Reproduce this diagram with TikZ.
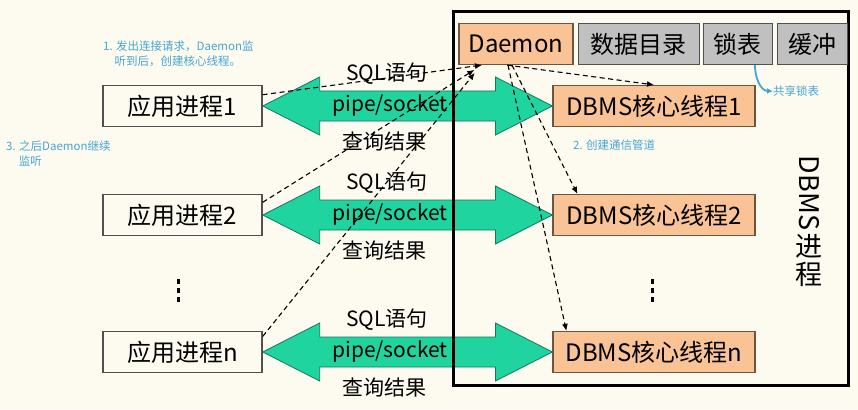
\documentclass[tikz,border=0pt]{standalone}
\usepackage{fontspec}
\usepackage{graphicx}
\setmainfont{Noto Sans CJK SC}
\usetikzlibrary{arrows.meta,positioning,calc}
\definecolor{bgCream}{RGB}{253,251,240}
\definecolor{dbmsOrange}{RGB}{250,195,150}
\definecolor{orangeLine}{RGB}{110,85,65}
\definecolor{resGray}{RGB}{192,192,192}
\definecolor{grayLine}{RGB}{80,80,80}
\definecolor{pipeGreen}{RGB}{32,212,160}
\definecolor{pipeLine}{RGB}{20,120,90}
\definecolor{noteBlue}{RGB}{70,165,210}
\newcommand{\lblfont}{\fontsize{24}{26}\selectfont}
\newcommand{\msgfont}{\fontsize{21}{24}\selectfont}
\newcommand{\notefont}{\fontsize{11.5}{15}\selectfont}
\newcommand{\vlblfont}{\fontsize{27}{29}\selectfont}
% green two-way channel between an app and its core thread
\newcommand{\pipelink}[2]{%
  \path[pipe] let \p1=(#1.east), \p2=(#2.west) in
    (\p1) -- (\x1+57pt,\y1+29pt) -- (\x1+57pt,\y1+15pt) -- (\x2-57pt,\y1+15pt)
    -- (\x2-57pt,\y1+29pt) -- (\x2,\y1) -- (\x2-57pt,\y1-29pt) -- (\x2-57pt,\y1-15pt)
    -- (\x1+57pt,\y1-15pt) -- (\x1+57pt,\y1-29pt) -- cycle;}

\begin{document}
\begin{tikzpicture}[x=1pt,y=-1pt,
  app/.style={draw=grayLine,line width=1.4pt,fill=bgCream,minimum width=159pt,minimum height=41pt,inner sep=0pt,font=\lblfont},
  thread/.style={draw=orangeLine,line width=1.2pt,fill=dbmsOrange,minimum width=202pt,minimum height=41pt,inner sep=0pt,font=\lblfont},
  res/.style={thread,draw=grayLine,fill=resGray},
  pipe/.style={fill=pipeGreen,draw=pipeLine,line width=0.8pt},
  msg/.style={font=\msgfont,inner sep=0pt},
  note/.style={text=noteBlue,font=\notefont,align=left,inner sep=0pt},
  req/.style={line width=1.1pt,dash pattern=on 5pt off 3.5pt,-{Latex[length=7pt,width=6pt]}},
  vdots/.style={line width=3pt,dash pattern=on 5pt off 4pt}
]
  \fill[bgCream] (0,0) rectangle (858,409);
  \useasboundingbox (0,0) rectangle (858,409);

  % application processes
  \node[app] (app1) at (182.5,106) {应用进程1};
  \node[app] (app2) at (182.5,215) {应用进程2};
  \node[app] (appn) at (182.5,352) {应用进程n};

  % core threads
  \node[thread] (thr1) at (654,106) {DBMS核心线程1};
  \node[thread] (thr2) at (654,215) {DBMS核心线程2};
  \node[thread] (thrn) at (654,352) {DBMS核心线程n};

  \pipelink{app1}{thr1}
  \pipelink{app2}{thr2}
  \pipelink{appn}{thrn}

  \foreach \r/\y in {1/106,2/215,n/352}{
    \node[msg] (sql\r) at (387,\y-32) {SQL语句};
    \node[msg] (pipe\r) at (390,\y) {pipe/socket};
    \node[msg] (res\r) at (384,\y+36) {查询结果};
  }

  % DBMS process frame
  \node[draw,line width=3pt,minimum width=395pt,minimum height=373pt,inner sep=0pt] (dbms) at (650.5,198.5) {};

  \node[thread,minimum width=114pt] (dmn) at (516,44) {Daemon};
  \node[res,minimum width=121pt,right=4pt of dmn] (dict) {数据目录};
  \node[res,minimum width=69pt,right=3pt of dict] (lock) {锁表};
  \node[res,minimum width=70pt,right=4pt of lock] (buf) {缓冲};

  \node[font=\vlblfont,rotate=-90,inner sep=0pt] (dbmsv) at (809,193) {DBMS};
  \node[font=\vlblfont,inner sep=0pt,anchor=north] (jin) at ([yshift=-4pt]dbmsv.east) {进};
  \node[font=\vlblfont,inner sep=0pt,below=3pt of jin] (cheng) {程};

  % ellipses
  \draw[vdots] (178,279) -- (178,303);
  \draw[vdots] (652,279) -- (652,303);

  % notes
  \node[note,anchor=north west] (note1) at (103,41) {1. 发出连接请求，Daemon监\\\hspace{1em}听到后，创建核心线程。};
  \node[note,anchor=north west] (note3) at (6,141) {3. 之后Daemon继续\\\hspace{1.1em}监听};
  \node[note,anchor=west] (note2) at (573,145) {2. 创建通信管道};
  \node[note,anchor=west] (share) at (773,91) {共享锁表};
  \draw[noteBlue,line width=1.8pt,-{Latex[length=6pt,width=6pt]}] ([xshift=17pt]lock.south) to[out=-90,in=180] (share.west);

  % connect requests and thread creation
  \draw[req] (app1.8) -- ([xshift=-34pt]dmn.south);
  \draw[req,shorten >=9pt] (app2.9) -- ([xshift=-34pt]dmn.south);
  \draw[req,shorten >=10pt] (appn.11) -- ([xshift=-35pt]dmn.south);
  \draw[req] ([xshift=-9pt]dmn.south) -- (thr1.north);
  \draw[req] ([xshift=-4pt]dmn.south) -- ([xshift=25pt]thr2.north west);
  \draw[req] ([xshift=-8pt]dmn.south) -- ([xshift=14pt]thrn.north west);
\end{tikzpicture}
\end{document}
